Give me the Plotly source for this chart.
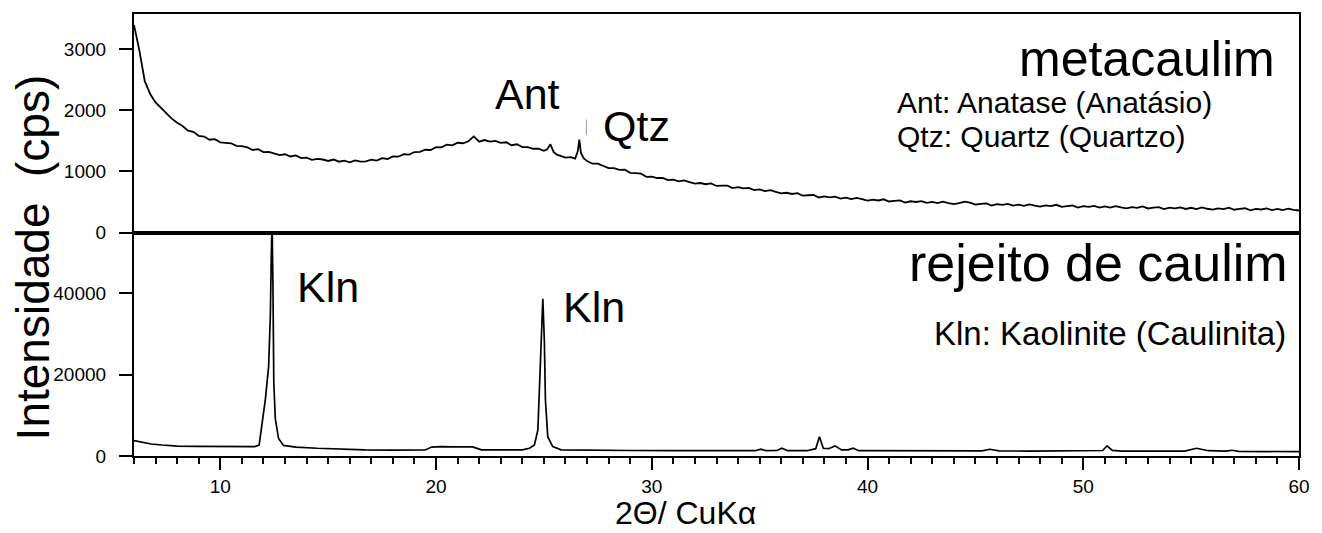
import plotly.graph_objects as go

# ---------------- data ----------------
# metacaulim (top panel)
two_theta_meta = [
    6.00, 6.25, 6.50, 6.75, 7.00, 7.25, 7.50, 7.75, 8.00, 8.25, 8.50, 8.75, 9.00, 9.25, 9.50, 9.75,
    10.00, 10.25, 10.50, 10.75, 11.00, 11.25, 11.50, 11.75, 12.00, 12.25, 12.50, 12.75, 13.00, 13.25,
    13.50, 13.75, 14.00, 14.25, 14.50, 14.75, 15.00, 15.25, 15.50, 15.75, 16.00, 16.25, 16.50, 16.75,
    17.00, 17.25, 17.50, 17.75, 18.00, 18.25, 18.50, 18.75, 19.00, 19.25, 19.50, 19.75, 20.00, 20.25,
    20.50, 20.75, 21.00, 21.25, 21.50, 21.75, 22.00, 22.25, 22.50, 22.75, 23.00, 23.25, 23.50, 23.75,
    24.00, 24.25, 24.50, 24.75, 25.00, 25.15, 25.30, 25.45, 25.60, 25.75, 26.00, 26.25, 26.45, 26.57,
    26.64, 26.72, 26.85, 27.00, 27.25, 27.50, 27.75, 28.00, 28.25, 28.50, 28.75, 29.00, 29.25, 29.50,
    29.75, 30.00, 30.25, 30.50, 30.75, 31.00, 31.25, 31.50, 31.75, 32.00, 32.25, 32.50, 32.75, 33.00,
    33.25, 33.50, 33.75, 34.00, 34.25, 34.50, 34.75, 35.00, 35.25, 35.50, 35.75, 36.00, 36.25, 36.50,
    36.75, 37.00, 37.25, 37.50, 37.75, 38.00, 38.25, 38.50, 38.75, 39.00, 39.25, 39.50, 39.75, 40.00,
    40.25, 40.50, 40.75, 41.00, 41.25, 41.50, 41.75, 42.00, 42.25, 42.50, 42.75, 43.00, 43.25, 43.50,
    43.75, 44.00, 44.25, 44.50, 44.75, 45.00, 45.25, 45.50, 45.75, 46.00, 46.25, 46.50, 46.75, 47.00,
    47.25, 47.50, 47.75, 48.00, 48.25, 48.50, 48.75, 49.00, 49.25, 49.50, 49.75, 50.00, 50.25, 50.50,
    50.75, 51.00, 51.25, 51.50, 51.75, 52.00, 52.25, 52.50, 52.75, 53.00, 53.25, 53.50, 53.75, 54.00,
    54.25, 54.50, 54.75, 55.00, 55.25, 55.50, 55.75, 56.00, 56.25, 56.50, 56.75, 57.00, 57.25, 57.50,
    57.75, 58.00, 58.25, 58.50, 58.75, 59.00, 59.25, 59.50, 59.75, 60.00,
]
counts_meta = [
    3400, 2980, 2480, 2270, 2130, 2040, 1960, 1865, 1800, 1745, 1668, 1650, 1585, 1572, 1520, 1530,
    1478, 1475, 1462, 1420, 1415, 1396, 1352, 1366, 1318, 1322, 1300, 1268, 1282, 1246,
    1262, 1220, 1228, 1190, 1205, 1196, 1172, 1196, 1160, 1178, 1150, 1182, 1160, 1165,
    1195, 1178, 1218, 1205, 1248, 1242, 1282, 1276, 1318, 1322, 1356, 1352, 1398, 1395,
    1440, 1428, 1470, 1462, 1495, 1575, 1488, 1515, 1490, 1502, 1468, 1478, 1430, 1445,
    1400, 1398, 1372, 1375, 1338, 1362, 1445, 1320, 1275, 1258, 1228, 1236, 1210, 1330,
    1520, 1300, 1215, 1170, 1127, 1128, 1092, 1055, 1056, 1026, 1030, 978, 973, 964,
    912, 917, 893, 896, 858, 865, 837, 853, 827, 800, 811, 791, 805, 763,
    768, 769, 727, 742, 723, 731, 695, 705, 677, 693, 667, 640, 651, 631,
    645, 603, 610, 614, 574, 592, 576, 588, 556, 570, 546, 566, 545, 523,
    539, 525, 544, 508, 519, 526, 490, 512, 500, 514, 485, 502, 481, 504,
    481, 465, 483, 505, 491, 456, 469, 477, 442, 465, 453, 469, 440, 458,
    438, 462, 440, 425, 444, 432, 454, 420, 433, 442, 408, 432, 421, 437,
    409, 428, 408, 433, 411, 397, 416, 405, 427, 394, 407, 417, 383, 407,
    397, 413, 386, 405, 385, 410, 389, 375, 395, 384, 406, 373, 387, 397,
    363, 387, 377, 394, 367, 386, 367, 392, 371, 360,
]

# rejeito de caulim (bottom panel)
two_theta_rej = [
    6.0, 6.4, 6.8, 7.3, 8.0, 9.0, 10.0, 11.0, 11.6, 11.8, 11.94, 12.09, 12.24, 12.32, 12.36, 12.40,
    12.44, 12.48, 12.55, 12.70, 12.93, 13.5, 14.5, 15.5, 16.7, 18.0, 19.5, 19.8, 20.2, 20.8, 21.3,
    21.7, 22.1, 23.0, 24.0, 24.33, 24.56, 24.72, 24.79, 24.87, 24.95, 25.02, 25.07, 25.18, 25.41,
    25.8, 27.0, 29.0, 31.0, 33.0, 34.8, 35.05, 35.3, 35.8, 36.03, 36.3, 37.2, 37.6, 37.77, 37.95,
    38.2, 38.49, 38.8, 39.1, 39.33, 39.6, 40.5, 42.0, 44.0, 45.3, 45.67, 46.1, 47.5, 49.0, 50.6,
    50.9, 51.1, 51.35, 51.8, 53.5, 54.7, 55.25, 55.8, 56.6, 56.9, 57.2, 58.5, 60.0,
]
counts_rej = [
    3800, 3300, 2950, 2700, 2450, 2350, 2300, 2250, 2300, 2700, 7600, 14000, 22000, 34600, 48000, 58000,
    42000, 18000, 9200, 4300, 2600, 2200, 1900, 1700, 1500, 1470, 1480, 2200, 2300, 2250, 2350,
    2250, 1500, 1450, 1500, 1900, 2700, 6400, 16200, 28500, 38700, 28500, 13800, 4700, 2300,
    1500, 1400, 1350, 1320, 1300, 1300, 1700, 1300, 1350, 1900, 1300, 1300, 1800, 4730, 1900,
    1800, 2490, 1500, 1500, 1900, 1300, 1280, 1250, 1230, 1250, 1660, 1250, 1220, 1200, 1180,
    1350, 2490, 1400, 1180, 1150, 1200, 1900, 1300, 1200, 1410, 1150, 1100, 1060,
]

x_tick_vals = [10, 20, 30, 40, 50, 60]
y_top_ticks = [0, 1000, 2000, 3000]
y_top_labels = ["0", "1000", "2000", "3000"]
y_bot_ticks = [0, 20000, 40000]
y_bot_labels = ["0", "20000", "40000"]

assert len(two_theta_meta) == len(counts_meta)
assert len(two_theta_rej) == len(counts_rej)

# ---------------- layout helpers ----------------
W_FIG, H_FIG = 1322, 533
L, R, T, B = 134, 1310, 13, 456
PW, PH = R - L, B - T
DIV = 232
split = (B - DIV) / PH
FONT = "Liberation Sans, Arial, sans-serif"
PAD = "\u00a0\u2009"   # extra gap between y tick labels and tick marks


def pxx(x):
    return (x - L) / PW


def pxy(y):
    return (B - y) / PH


fig = go.Figure()
fig.add_trace(go.Scatter(x=two_theta_rej, y=counts_rej, mode="lines",
                         line=dict(color="black", width=1.7), xaxis="x", yaxis="y",
                         showlegend=False, hoverinfo="skip"))
fig.add_trace(go.Scatter(x=two_theta_meta, y=counts_meta, mode="lines",
                         line=dict(color="black", width=1.8), xaxis="x2", yaxis="y2",
                         showlegend=False, hoverinfo="skip"))

axis_common = dict(showline=True, linecolor="black", linewidth=2, mirror=True,
                   showgrid=False, zeroline=False,
                   tickfont=dict(family=FONT, size=19, color="black"))

fig.update_layout(
    width=W_FIG, height=H_FIG, autosize=False,
    margin=dict(l=L, r=W_FIG - R, t=T, b=H_FIG - B),
    paper_bgcolor="white", plot_bgcolor="white",
    xaxis=dict(axis_common, range=[6, 60], anchor="y", domain=[0, 1],
               tickvals=x_tick_vals, ticks="outside", ticklen=12, tickwidth=2,
               tickcolor="black",
               minor=dict(dtick=1, tick0=0, ticks="outside", ticklen=6, tickwidth=1.5,
                          tickcolor="black")),
    yaxis=dict(axis_common, range=[0, 55000], domain=[0, split], anchor="x",
               tickvals=y_bot_ticks, ticktext=[t + PAD for t in y_bot_labels],
               ticks="outside", ticklen=13, tickwidth=2, tickcolor="black"),
    xaxis2=dict(axis_common, range=[6, 60], anchor="y2", domain=[0, 1], matches="x",
                showticklabels=False, ticks=""),
    yaxis2=dict(axis_common, range=[0, 3580], domain=[split, 1], anchor="x2",
                tickvals=y_top_ticks, ticktext=[t + PAD for t in y_top_labels],
                ticks="outside", ticklen=13, tickwidth=2, tickcolor="black"),
)

# small faint mark near the quartz label
fig.add_shape(type="line", xref="x2", yref="y2", x0=26.97, x1=26.97, y0=1600, y1=1850,
              line=dict(color="#999999", width=1))


def ann(text, x, y, size, xanchor="center", yanchor="middle", angle=0):
    fig.add_annotation(text=text, xref="paper", yref="paper", x=pxx(x), y=pxy(y),
                       xanchor=xanchor, yanchor=yanchor, showarrow=False, textangle=angle,
                       font=dict(family=FONT, size=size, color="black"))


ann("metacaulim", 1288, 58, 50, xanchor="right")
ann("Ant: Anatase (Anatásio)", 902, 102, 30, xanchor="left")
ann("Qtz: Quartz (Quartzo)", 902, 136, 30, xanchor="left")
ann("rejeito de caulim", 1301, 263, 52, xanchor="right")
ann("Kln: Kaolinite (Caulinita)", 1299, 333, 33, xanchor="right")
ann("Ant", 531, 93, 43)
ann("Qtz", 641, 125, 43)
ann("Kln", 330, 287, 43)
ann("Kln", 598, 307, 43)
ann("Intensidade&nbsp; (cps)", 33, 257, 46, angle=-90)
ann("2Θ/ CuKα", 691, 533, 32, yanchor="bottom")

fig.write_html("out.html")
